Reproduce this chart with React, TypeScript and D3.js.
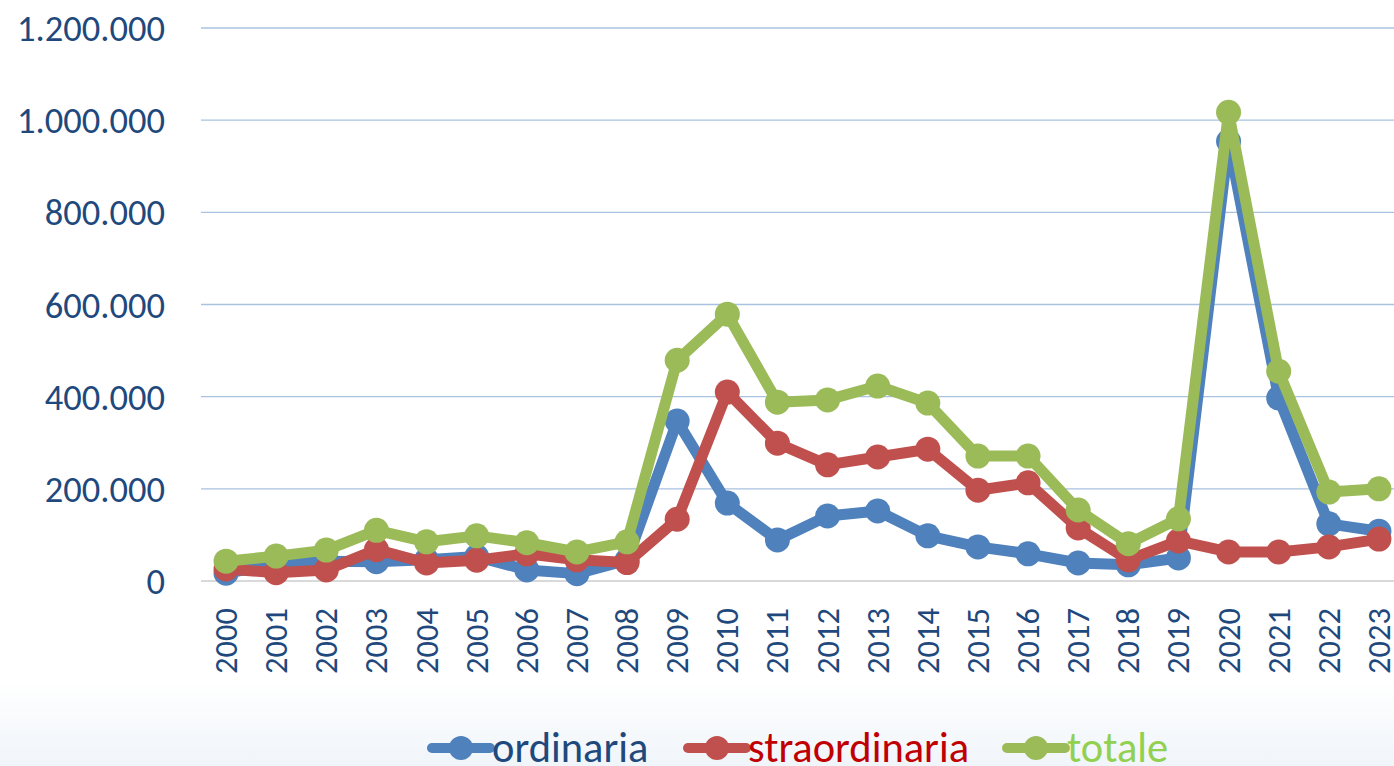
import * as d3 from 'd3';

const years = [
  '2000', '2001', '2002', '2003', '2004', '2005', '2006', '2007', '2008', '2009', '2010', '2011',
  '2012', '2013', '2014', '2015', '2016', '2017', '2018', '2019', '2020', '2021', '2022', '2023',
];

const ordinaria = [
  17000, 36000, 43000, 42000, 46000, 53000, 24000, 16000, 45000, 347000, 169000, 89000,
  141000, 152000, 98000, 74000, 59000, 39000, 35000, 50000, 954000, 397000, 124000, 108000,
];

const straordinaria = [
  26000, 18000, 24000, 68000, 39000, 45000, 59000, 46000, 40000, 134000, 410000, 299000,
  252000, 269000, 286000, 197000, 213000, 115000, 46000, 87000, 63000, 63000, 74000, 91000,
];

const totale = [
  43000, 54000, 67000, 110000, 85000, 98000, 83000, 63000, 85000, 479000, 579000, 388000,
  393000, 423000, 386000, 271000, 271000, 154000, 81000, 135000, 1017000, 455000, 193000, 200000,
];

const yTicks = [0, 200000, 400000, 600000, 800000, 1000000, 1200000];

const series = [
  { key: 'ordinaria', values: ordinaria, color: '#4f81bd', text: '#1f497d' },
  { key: 'straordinaria', values: straordinaria, color: '#c0504d', text: '#c00000' },
  { key: 'totale', values: totale, color: '#9bbb59', text: '#92d050' },
];

const width = 1394;
const height = 766;
const font = 'Carlito, Lato, sans-serif';

function formatTick(value: number) {
  if (value === 0) return '0';
  return d3.format(',')(value).replace(/,/g, '.');
}

export default function App() {
  const x = d3.scaleBand<string>().domain(years).range([201, 1404]).padding(0);
  const y = d3.scaleLinear().domain([0, 1200000]).range([581, 28]);
  const cx = (year: string) => (x(year) ?? 0) + x.bandwidth() / 2;

  const line = d3
    .line<number>()
    .x((_, i) => cx(years[i]))
    .y((v) => y(v));

  // legend entries sit where the reference puts them
  const legendItems = [
    { ...series[0], x: 432 },
    { ...series[1], x: 688 },
    { ...series[2], x: 1007 },
  ];

  return (
    <svg
      width={width}
      height={height}
      style={{ position: 'absolute', left: 0, top: 0, display: 'block' }}
      fontFamily={font}
    >
      <defs>
        <linearGradient id="bg" x1="0" y1="0" x2="0" y2="1">
          <stop offset="0" stopColor="#ffffff" />
          <stop offset="0.89" stopColor="#ffffff" />
          <stop offset="1" stopColor="#f0f5fa" />
        </linearGradient>
      </defs>
      <rect x={0} y={0} width={width} height={height} fill="url(#bg)" />

      {yTicks.slice(1).map((t) => (
        <line key={t} x1={201} x2={width} y1={y(t)} y2={y(t)} stroke="#a8c2e0" strokeWidth={1.3} />
      ))}
      <line x1={201} x2={width} y1={y(0)} y2={y(0)} stroke="#d9d9d9" strokeWidth={2} />

      {yTicks.map((t) => (
        <text
          key={t}
          x={165}
          y={y(t)}
          dy="0.36em"
          textAnchor="end"
          fontSize={36.5}
          fill="#1f497d"
        >
          {formatTick(t)}
        </text>
      ))}

      {years.map((yr) => (
        <text
          key={yr}
          transform={`translate(${cx(yr) + 11},${608}) rotate(-90)`}
          textAnchor="end"
          fontSize={32.5}
          fill="#1f497d"
        >
          {yr}
        </text>
      ))}

      {series.map((s) => (
        <g key={s.key}>
          <path
            d={line(s.values) ?? ''}
            fill="none"
            stroke={s.color}
            strokeWidth={11}
            strokeLinejoin="round"
            strokeLinecap="round"
          />
          {s.values.map((v, i) => (
            <circle key={i} cx={cx(years[i])} cy={y(v)} r={12.5} fill={s.color} />
          ))}
        </g>
      ))}

      {legendItems.map((item) => (
        <g key={item.key}>
          <line
            x1={item.x}
            x2={item.x + 58}
            y1={748}
            y2={748}
            stroke={item.color}
            strokeWidth={10}
            strokeLinecap="round"
          />
          <circle cx={item.x + 29} cy={748} r={12} fill={item.color} />
          <text x={item.x + 60} y={762} fontSize={42.5} fill={item.text}>
            {item.key}
          </text>
        </g>
      ))}
    </svg>
  );
}
